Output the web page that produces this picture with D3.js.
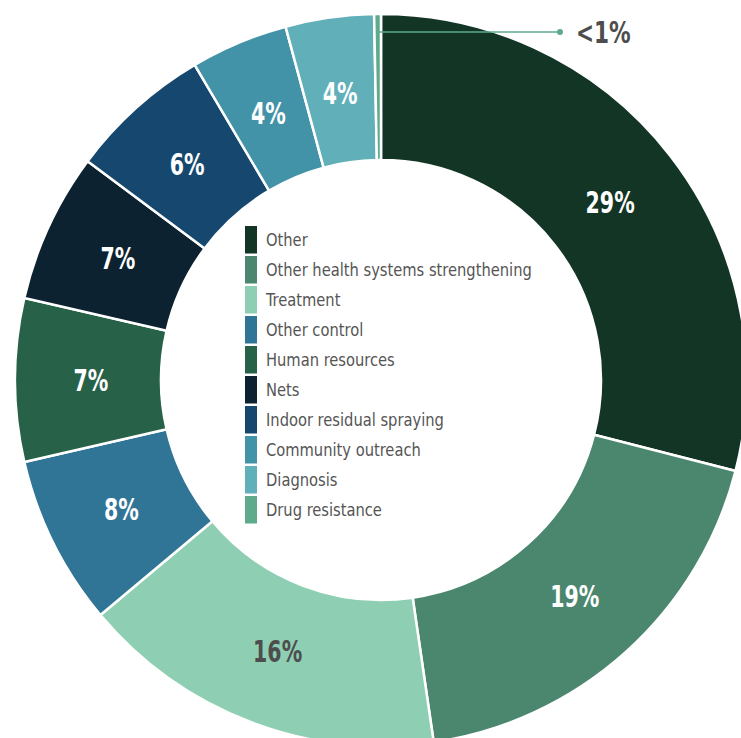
<!DOCTYPE html>
<html>
<head>
<meta charset="utf-8">
<script src="https://cdn.jsdelivr.net/npm/d3@7"></script>
<style>
  html, body { margin: 0; padding: 0; background: #fff; }
  svg { display: block; }
  text { font-family: "DejaVu Sans Condensed", "DejaVu Sans", sans-serif; }
</style>
</head>
<body>
<svg id="chart" width="741" height="738"></svg>
<script>
const categories = ["Other", "Other health systems strengthening", "Treatment", "Other control",
  "Human resources", "Nets", "Indoor residual spraying", "Community outreach", "Diagnosis", "Drug resistance"];
const values = [29.0, 18.7, 16.2, 7.5, 7.2, 6.6, 6.3, 4.3, 3.9, 0.3];
const labels = ["29%", "19%", "16%", "8%", "7%", "7%", "6%", "4%", "4%", "<1%"];
const colors = ["#133525", "#4b876f", "#8ecfb4", "#317596", "#276148", "#0d2230", "#16486f", "#4292a8", "#60afb9", "#5eaa8b"];
const labelColors = ["#fff", "#fff", "#4d4d4d", "#fff", "#fff", "#fff", "#fff", "#fff", "#fff", "#4d4d4d"];

const svg = d3.select("#chart");
const cx = 381, cy = 380, R = 366, r = 220;
const g = svg.append("g").attr("transform", `translate(${cx},${cy})`);

const data = categories.map((c, i) => ({ name: c, value: values[i], label: labels[i], color: colors[i], lc: labelColors[i] }));
const pie = d3.pie().value(d => d.value).sort(null);
const arcs = pie(data);
const arc = d3.arc().innerRadius(r).outerRadius(R);

g.selectAll("path.slice").data(arcs).enter().append("path")
  .attr("class", "slice")
  .attr("d", arc)
  .attr("fill", d => d.data.color)
  .attr("stroke", "#fff")
  .attr("stroke-width", 2.5)
  .attr("stroke-linejoin", "miter");

const mid = 290;
const labelArc = d3.arc().innerRadius(mid).outerRadius(mid);

g.selectAll("text.pct").data(arcs.filter(d => d.data.value >= 1)).enter().append("text")
  .attr("class", "pct")
  .attr("transform", d => `translate(${labelArc.centroid(d)}) scale(0.76,1)`)
  .attr("text-anchor", "middle")
  .attr("dy", "0.36em")
  .attr("fill", d => d.data.lc)
  .attr("font-size", 30)
  .attr("font-weight", "bold")
  .text(d => d.data.label);

// small slice callout
const small = arcs[arcs.length - 1];
const aMid = (small.startAngle + small.endAngle) / 2;
const ly = 32;
const x1 = 560;
svg.append("line")
  .attr("x1", cx + Math.tan(aMid) * (cy - ly)).attr("y1", ly)
  .attr("x2", x1).attr("y2", ly)
  .attr("stroke", small.data.color).attr("stroke-width", 1.5);
svg.append("circle").attr("cx", x1).attr("cy", ly).attr("r", 3).attr("fill", small.data.color);
svg.append("text")
  .attr("transform", `translate(576,${ly}) scale(0.8,1)`)
  .attr("dy", "0.36em")
  .attr("fill", small.data.lc)
  .attr("font-size", 30)
  .attr("font-weight", "bold")
  .text(small.data.label);

// legend
const lg = svg.append("g").attr("transform", "translate(245,226)");
const row = lg.selectAll("g").data(data).enter().append("g")
  .attr("transform", (d, i) => `translate(0,${i * 30})`);
row.append("rect").attr("width", 12).attr("height", 27.5).attr("fill", d => d.color);
row.append("text")
  .attr("transform", "translate(21,13) scale(0.883,1)")
  .attr("dy", "0.36em")
  .attr("font-size", 18.5).attr("fill", "#555")
  .text(d => d.name);
</script>
</body>
</html>
